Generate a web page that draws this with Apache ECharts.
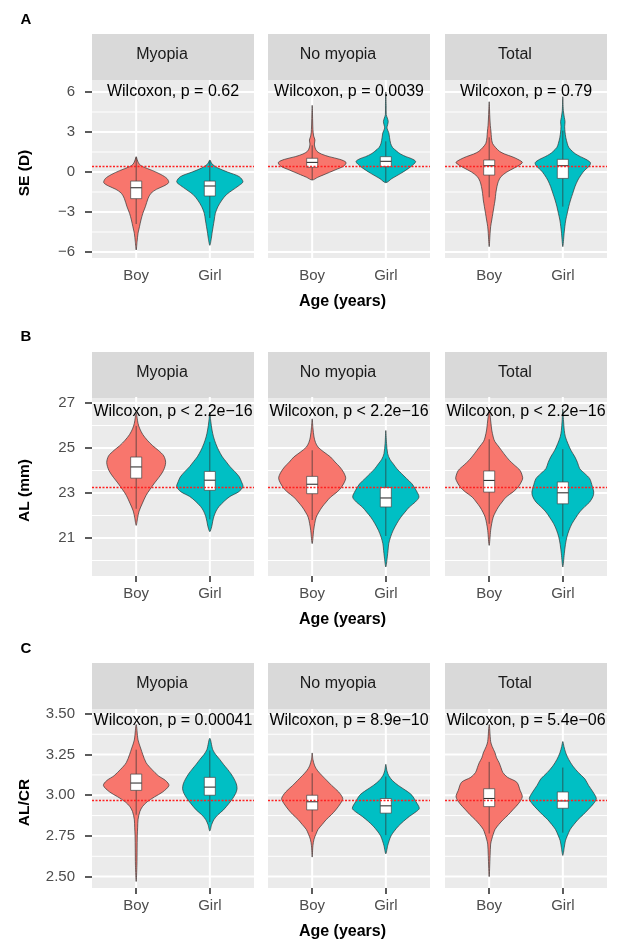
<!DOCTYPE html>
<html><head><meta charset="utf-8">
<script src="https://cdn.jsdelivr.net/npm/echarts@6/dist/echarts.min.js"></script>
<style>html,body{margin:0;padding:0;background:#fff}#c{width:617px;height:939px}</style>
</head><body><div id="c"></div>
<script>
// ---------------- DATA ----------------
const facets = ['Myopia', 'No myopia', 'Total'];
const groups = ['Boy', 'Girl'];
const panelLetters = ['A', 'B', 'C'];
const yTitles = ['SE (D)', 'AL (mm)', 'AL/CR'];
const xTitle = 'Age (years)';

const yTicksA = [-6, -3, 0, 3, 6];
const yMinorA = [-4.5, -1.5, 1.5, 4.5];
const yTicksB = [21, 23, 25, 27];
const yMinorB = [20, 22, 24, 26];
const yTicksC = [2.5, 2.75, 3.0, 3.25, 3.5];
const yMinorC = [2.625, 2.875, 3.125, 3.375];
const yRangeA = [-6.45, 6.9];
const yRangeB = [19.31, 27.27];
const yRangeC = [2.43, 3.53];

const refLines = [0.45, 23.26, 2.97];

const pLabelsA = ['Wilcoxon, p = 0.62', 'Wilcoxon, p = 0.0039', 'Wilcoxon, p = 0.79'];
const pLabelsB = ['Wilcoxon, p < 2.2e\u221216', 'Wilcoxon, p < 2.2e\u221216', 'Wilcoxon, p < 2.2e\u221216'];
const pLabelsC = ['Wilcoxon, p = 0.00041', 'Wilcoxon, p = 8.9e\u221210', 'Wilcoxon, p = 5.4e\u221206'];
const pLabelY = [6.05, 26.6, 3.46];

// violin profiles: [value, full width in category units]
const seMyopiaBoy = [[1.15,0],[0.9,0.03],[0.6,0.08],[0.4,0.18],[0.1,0.45],[-0.2,0.68],[-0.5,0.84],[-0.8,0.88],[-1.05,0.75],[-1.3,0.55],[-1.6,0.4],[-2.0,0.32],[-2.6,0.25],[-3.1,0.18],[-3.6,0.13],[-4.1,0.09],[-4.6,0.05],[-5.2,0.025],[-5.85,0]];
const seMyopiaGirl = [[0.9,0],[0.6,0.06],[0.3,0.22],[0.0,0.48],[-0.35,0.8],[-0.73,0.9],[-1.0,0.8],[-1.35,0.62],[-1.7,0.45],[-2.1,0.33],[-2.6,0.22],[-3.1,0.15],[-3.6,0.12],[-4.1,0.09],[-4.6,0.06],[-5.0,0.04],[-5.5,0]];
const seNoMyopiaBoy = [[-0.6,0],[-0.4,0.15],[-0.2,0.32],[0.15,0.62],[0.45,0.86],[0.72,0.92],[0.95,0.75],[1.15,0.46],[1.35,0.25],[1.55,0.13],[1.8,0.08],[2.1,0.06],[2.4,0.075],[2.7,0.04],[3.2,0.02],[4.0,0.012],[5.0,0]];
const seNoMyopiaGirl = [[-0.8,0],[-0.5,0.16],[-0.1,0.41],[0.4,0.68],[0.78,0.81],[1.0,0.7],[1.15,0.55],[1.35,0.4],[1.55,0.3],[1.85,0.18],[2.15,0.13],[2.6,0.1],[2.95,0.08],[3.3,0.03],[3.55,0.05],[3.8,0.065],[4.05,0.04],[4.3,0.012],[5.0,0.01],[6.0,0]];
const seTotalBoy = [[-5.6,0],[-4.6,0.025],[-4.1,0.04],[-3.6,0.07],[-3.1,0.1],[-2.6,0.13],[-2.1,0.16],[-1.6,0.18],[-1.1,0.21],[-0.7,0.25],[-0.35,0.32],[0.0,0.48],[0.3,0.68],[0.7,0.9],[0.95,0.78],[1.15,0.62],[1.35,0.42],[1.55,0.28],[1.85,0.17],[2.15,0.09],[2.6,0.06],[3.0,0.05],[3.5,0.03],[4.3,0.015],[5.27,0]];
const seTotalGirl = [[-5.6,0],[-4.6,0.035],[-4.1,0.055],[-3.6,0.08],[-3.1,0.12],[-2.6,0.16],[-2.1,0.21],[-1.6,0.27],[-1.1,0.33],[-0.6,0.41],[-0.2,0.5],[0.15,0.6],[0.45,0.72],[0.7,0.75],[0.95,0.63],[1.15,0.48],[1.35,0.35],[1.55,0.26],[1.85,0.16],[2.15,0.12],[2.6,0.08],[3.0,0.06],[3.4,0.05],[3.78,0.06],[4.1,0.04],[4.6,0.015],[5.65,0]];

const alMyopiaBoy = [[21.56,0],[21.9,0.04],[22.2,0.08],[22.55,0.17],[22.9,0.27],[23.15,0.37],[23.45,0.5],[23.7,0.62],[24.0,0.74],[24.35,0.8],[24.65,0.75],[24.9,0.6],[25.1,0.45],[25.35,0.3],[25.6,0.18],[25.85,0.1],[26.1,0.05],[26.55,0]];
const alMyopiaGirl = [[21.28,0],[21.5,0.05],[21.75,0.08],[21.95,0.11],[22.2,0.17],[22.4,0.25],[22.65,0.4],[22.85,0.55],[23.05,0.78],[23.28,0.9],[23.5,0.86],[23.72,0.8],[23.95,0.68],[24.17,0.55],[24.4,0.44],[24.61,0.34],[24.9,0.24],[25.2,0.16],[25.5,0.1],[25.8,0.06],[26.2,0.025],[26.6,0]];
const alNoMyopiaBoy = [[20.75,0],[21.34,0.04],[21.65,0.07],[21.93,0.11],[22.15,0.18],[22.38,0.27],[22.6,0.38],[22.82,0.5],[23.05,0.68],[23.27,0.8],[23.64,0.91],[23.9,0.86],[24.16,0.75],[24.38,0.62],[24.6,0.5],[24.82,0.32],[25.04,0.16],[25.25,0.09],[25.49,0.05],[25.9,0.02],[26.3,0]];
const alNoMyopiaGirl = [[19.71,0],[20.16,0.04],[20.45,0.06],[20.75,0.08],[21.05,0.13],[21.34,0.2],[21.65,0.3],[21.93,0.41],[22.15,0.52],[22.38,0.64],[22.6,0.8],[22.82,0.9],[23.1,0.83],[23.41,0.71],[23.65,0.56],[23.86,0.43],[24.08,0.3],[24.3,0.2],[24.5,0.11],[24.75,0.05],[25.2,0.02],[25.78,0]];
const alTotalBoy = [[20.67,0],[21.34,0.04],[21.65,0.07],[21.93,0.11],[22.15,0.17],[22.38,0.25],[22.6,0.35],[22.82,0.46],[23.05,0.65],[23.27,0.79],[23.55,0.89],[23.68,0.91],[24.0,0.84],[24.25,0.68],[24.45,0.55],[24.75,0.4],[25.04,0.27],[25.3,0.15],[25.49,0.11],[25.8,0.07],[26.08,0.05],[26.68,0]];
const alTotalGirl = [[19.71,0],[20.3,0.04],[20.7,0.07],[21.04,0.11],[21.35,0.17],[21.64,0.25],[21.9,0.35],[22.16,0.46],[22.4,0.6],[22.6,0.73],[22.85,0.82],[23.04,0.84],[23.3,0.8],[23.64,0.73],[23.86,0.6],[24.08,0.46],[24.35,0.4],[24.6,0.33],[24.9,0.22],[25.19,0.14],[25.5,0.07],[25.78,0.04],[26.2,0.02],[26.75,0]];

const crMyopiaBoy = [[2.47,0],[2.57,0.02],[2.67,0.025],[2.75,0.03],[2.8,0.04],[2.85,0.05],[2.9,0.1],[2.93,0.17],[2.96,0.3],[2.99,0.5],[3.02,0.72],[3.06,0.89],[3.09,0.8],[3.12,0.6],[3.16,0.42],[3.2,0.27],[3.25,0.18],[3.29,0.12],[3.34,0.05],[3.435,0]];
const crMyopiaGirl = [[2.78,0],[2.82,0.05],[2.85,0.11],[2.88,0.22],[2.91,0.37],[2.95,0.52],[2.98,0.62],[3.01,0.7],[3.04,0.74],[3.07,0.72],[3.1,0.66],[3.13,0.58],[3.16,0.48],[3.19,0.37],[3.22,0.27],[3.25,0.16],[3.28,0.08],[3.35,0]];
const crNoMyopiaBoy = [[2.62,0],[2.69,0.02],[2.73,0.05],[2.76,0.1],[2.79,0.16],[2.82,0.27],[2.85,0.38],[2.88,0.52],[2.91,0.64],[2.95,0.77],[2.98,0.83],[3.02,0.72],[3.06,0.53],[3.09,0.4],[3.12,0.27],[3.15,0.15],[3.18,0.07],[3.22,0.02],[3.26,0]];
const crNoMyopiaGirl = [[2.64,0],[2.69,0.05],[2.72,0.09],[2.75,0.14],[2.78,0.23],[2.81,0.34],[2.84,0.48],[2.87,0.64],[2.9,0.83],[2.92,0.91],[2.96,0.82],[3.0,0.71],[3.03,0.54],[3.06,0.34],[3.09,0.18],[3.12,0.08],[3.15,0.03],[3.19,0]];
const crTotalBoy = [[2.5,0],[2.63,0.025],[2.7,0.04],[2.73,0.07],[2.76,0.11],[2.79,0.16],[2.82,0.26],[2.85,0.38],[2.88,0.52],[2.91,0.64],[2.95,0.8],[2.99,0.9],[3.03,0.84],[3.08,0.75],[3.11,0.5],[3.14,0.37],[3.17,0.32],[3.2,0.27],[3.23,0.2],[3.26,0.16],[3.3,0.08],[3.33,0.04],[3.435,0]];
const crTotalGirl = [[2.63,0],[2.68,0.04],[2.72,0.07],[2.75,0.12],[2.79,0.2],[2.82,0.3],[2.85,0.41],[2.88,0.55],[2.91,0.68],[2.95,0.84],[2.98,0.91],[3.02,0.82],[3.06,0.7],[3.1,0.6],[3.14,0.42],[3.18,0.27],[3.22,0.16],[3.26,0.08],[3.3,0.03],[3.33,0]];

// box stats: [q1, median, q3, whisker low, whisker high]; order: Myopia Boy/Girl, No myopia Boy/Girl, Total Boy/Girl
const boxA = [[-2.0,-1.18,-0.68,-3.9,1.1],[-1.8,-1.05,-0.68,-3.45,0.85],[0.35,0.72,1.03,-0.6,2.0],[0.4,0.8,1.15,-0.75,2.3],[-0.23,0.47,0.9,-1.9,2.6],[-0.48,0.47,0.95,-2.6,3.1]];
const boxB = [[23.66,24.16,24.6,22.3,25.98],[23.12,23.57,23.96,21.83,25.27],[22.97,23.39,23.74,21.8,24.9],[22.38,22.78,23.24,21.09,24.53],[23.04,23.56,23.98,21.63,25.39],[22.52,23.01,23.49,21.07,24.95]];
const boxC = [[3.03,3.075,3.13,2.88,3.28],[3.0,3.05,3.11,2.835,3.275],[2.91,2.96,3.0,2.775,3.135],[2.89,2.935,2.98,2.755,3.115],[2.93,2.98,3.04,2.765,3.205],[2.92,2.965,3.02,2.77,3.17]];

// ---------------- LAYOUT / STYLE ----------------
const FONT = '"Liberation Sans", Arial, Helvetica, sans-serif';
const colors = ['#F8766D', '#00BFC4'];
const colLeft = [92, 268, 445];
const panelW = 162;
const stripTop = [34, 352, 663];
const stripH = 46;
const panelTop = [80, 397, 709];
const panelH = [178, 179, 179];

const violins = [
  [[seMyopiaBoy, seMyopiaGirl], [seNoMyopiaBoy, seNoMyopiaGirl], [seTotalBoy, seTotalGirl]],
  [[alMyopiaBoy, alMyopiaGirl], [alNoMyopiaBoy, alNoMyopiaGirl], [alTotalBoy, alTotalGirl]],
  [[crMyopiaBoy, crMyopiaGirl], [crNoMyopiaBoy, crNoMyopiaGirl], [crTotalBoy, crTotalGirl]]
];
const boxes = [boxA, boxB, boxC];
const yTicks = [yTicksA, yTicksB, yTicksC];
const yMinor = [yMinorA, yMinorB, yMinorC];
const yRanges = [yRangeA, yRangeB, yRangeC];
const pLabels = [pLabelsA, pLabelsB, pLabelsC];
const fmtY = [
  v => v < 0 ? '\u2212' + Math.abs(v) : String(v),
  v => String(v),
  v => v.toFixed(2)
];

const grids = [], xAxes = [], yAxes = [], series = [], graphics = [];

for (let r = 0; r < 3; r++) {
  for (let c = 0; c < 3; c++) {
    const gi = r * 3 + c;
    grids.push({left: colLeft[c], top: panelTop[r], width: panelW, height: panelH[r],
      show: true, backgroundColor: '#EBEBEB', borderWidth: 0});
    xAxes.push({gridIndex: gi, type: 'value', min: 0.4, max: 2.6,
      axisLine: {show: false},
      axisTick: {show: true, customValues: [1, 2], length: 6, lineStyle: {color: '#333333', width: 1.6}},
      axisLabel: {show: true, customValues: [1, 2], formatter: v => groups[Math.round(v) - 1],
        color: '#4D4D4D', fontSize: 15, fontFamily: FONT, margin: 10},
      splitLine: {show: false}});
    yAxes.push({gridIndex: gi, type: 'value', min: yRanges[r][0], max: yRanges[r][1],
      axisLine: {show: false},
      axisTick: {show: c === 0, customValues: yTicks[r], length: 7, lineStyle: {color: '#333333', width: 1.6}},
      axisLabel: {show: c === 0, customValues: yTicks[r], formatter: fmtY[r],
        color: '#4D4D4D', fontSize: 15, fontFamily: FONT, margin: 17},
      splitLine: {show: false}});

    // grid lines
    const gridData = [];
    yMinor[r].forEach(v => gridData.push([1, v]));
    yTicks[r].forEach(v => gridData.push([0, v]));
    [1, 2].forEach(v => gridData.push([2, v]));
    series.push({type: 'custom', xAxisIndex: gi, yAxisIndex: gi, z: 1, silent: true,
      data: gridData,
      renderItem: (params, api) => {
        const kind = api.value(0), v = api.value(1);
        const cs = params.coordSys;
        if (kind === 2) {
          const p = api.coord([v, yRanges[r][0]]);
          return {type: 'line', shape: {x1: p[0], y1: cs.y, x2: p[0], y2: cs.y + cs.height},
            style: {stroke: '#FFFFFF', lineWidth: 2}};
        }
        const p = api.coord([1, v]);
        return {type: 'line', shape: {x1: cs.x, y1: p[1], x2: cs.x + cs.width, y2: p[1]},
          style: {stroke: '#FFFFFF', lineWidth: kind === 0 ? 2 : 1}};
      }});

    // violins + boxes
    series.push({type: 'custom', xAxisIndex: gi, yAxisIndex: gi, z: 2, silent: true,
      data: [[1, 0], [2, 1]],
      renderItem: (params, api) => {
        const x = api.value(0), g = api.value(1);
        const prof = violins[r][c][g].slice().sort((a, b) => a[0] - b[0]);
        const pts = [];
        prof.forEach(([v, w]) => pts.push(api.coord([x + w / 2, v])));
        for (let i = prof.length - 1; i >= 0; i--) {
          const [v, w] = prof[i];
          if (w > 0) pts.push(api.coord([x - w / 2, v]));
        }
        const b = boxes[r][c * 2 + g];
        const bw = 0.15;
        const tl = api.coord([x - bw / 2, b[2]]);
        const br = api.coord([x + bw / 2, b[0]]);
        const med = api.coord([x, b[1]]);
        const wl = api.coord([x, b[3]]);
        const wh = api.coord([x, b[4]]);
        return {type: 'group', children: [
          {type: 'polygon', shape: {points: pts, smooth: 0.3},
            style: {fill: colors[g], stroke: '#333333', lineWidth: 0.7}},
          {type: 'line', shape: {x1: wl[0], y1: wl[1], x2: wh[0], y2: wh[1]},
            style: {stroke: '#333333', lineWidth: 0.7}},
          {type: 'rect', shape: {x: tl[0], y: tl[1], width: br[0] - tl[0], height: br[1] - tl[1]},
            style: {fill: '#FFFFFF', stroke: '#444444', lineWidth: 0.7}},
          {type: 'line', shape: {x1: tl[0], y1: med[1], x2: br[0], y2: med[1]},
            style: {stroke: '#333333', lineWidth: 1.1}}
        ]};
      },
      markLine: {silent: true, symbol: ['none', 'none'], label: {show: false}, animation: false,
        lineStyle: {color: '#FF2020', type: [2, 1.5], width: 1.3, opacity: 1},
        data: [{yAxis: refLines[r]}]}
    });

    // Wilcoxon label
    series.push({type: 'custom', xAxisIndex: gi, yAxisIndex: gi, z: 4, silent: true,
      data: [[1.5, pLabelY[r]]],
      renderItem: (params, api) => {
        const p = api.coord([api.value(0), api.value(1)]);
        return {type: 'text', x: p[0], y: p[1],
          style: {text: pLabels[r][c], fill: '#000000', fontSize: 16, fontFamily: FONT,
            align: 'center', verticalAlign: 'middle'}};
      }});

    // strip
    graphics.push({type: 'rect', left: colLeft[c], top: stripTop[r],
      shape: {width: panelW, height: stripH}, style: {fill: '#D9D9D9'}, silent: true});
    graphics.push({type: 'text', x: colLeft[c] + panelW / 2 - 11, y: stripTop[r] + stripH / 2 - 2,
      style: {text: facets[c], fill: '#1A1A1A', fontSize: 16, fontFamily: FONT,
        align: 'center', verticalAlign: 'middle'}, silent: true});
  }
  // panel letter
  graphics.push({type: 'text', x: 26, y: panelTop[r] - 60,
    style: {text: panelLetters[r], fill: '#000000', fontSize: 15, fontWeight: 'bold', fontFamily: FONT,
      align: 'center', verticalAlign: 'middle'}, silent: true});
  // y title
  graphics.push({type: 'text', x: 25, y: panelTop[r] + panelH[r] / 2 + 4, rotation: Math.PI / 2,
    style: {text: yTitles[r], fill: '#000000', fontSize: 15.5, fontWeight: 'bold', fontFamily: FONT,
      align: 'center', verticalAlign: 'middle'}, silent: true});
  // x title
  graphics.push({type: 'text', x: (colLeft[0] + colLeft[2] + panelW) / 2 - 7, y: panelTop[r] + panelH[r] + 44,
    style: {text: xTitle, fill: '#000000', fontSize: 16, fontWeight: 'bold', fontFamily: FONT,
      align: 'center', verticalAlign: 'middle'}, silent: true});
}

const chart = echarts.init(document.getElementById('c'), null, {renderer: 'canvas'});
chart.setOption({
  animation: false,
  backgroundColor: '#FFFFFF',
  grid: grids,
  xAxis: xAxes,
  yAxis: yAxes,
  series: series,
  graphic: {elements: graphics}
});
</script>
</body></html>
